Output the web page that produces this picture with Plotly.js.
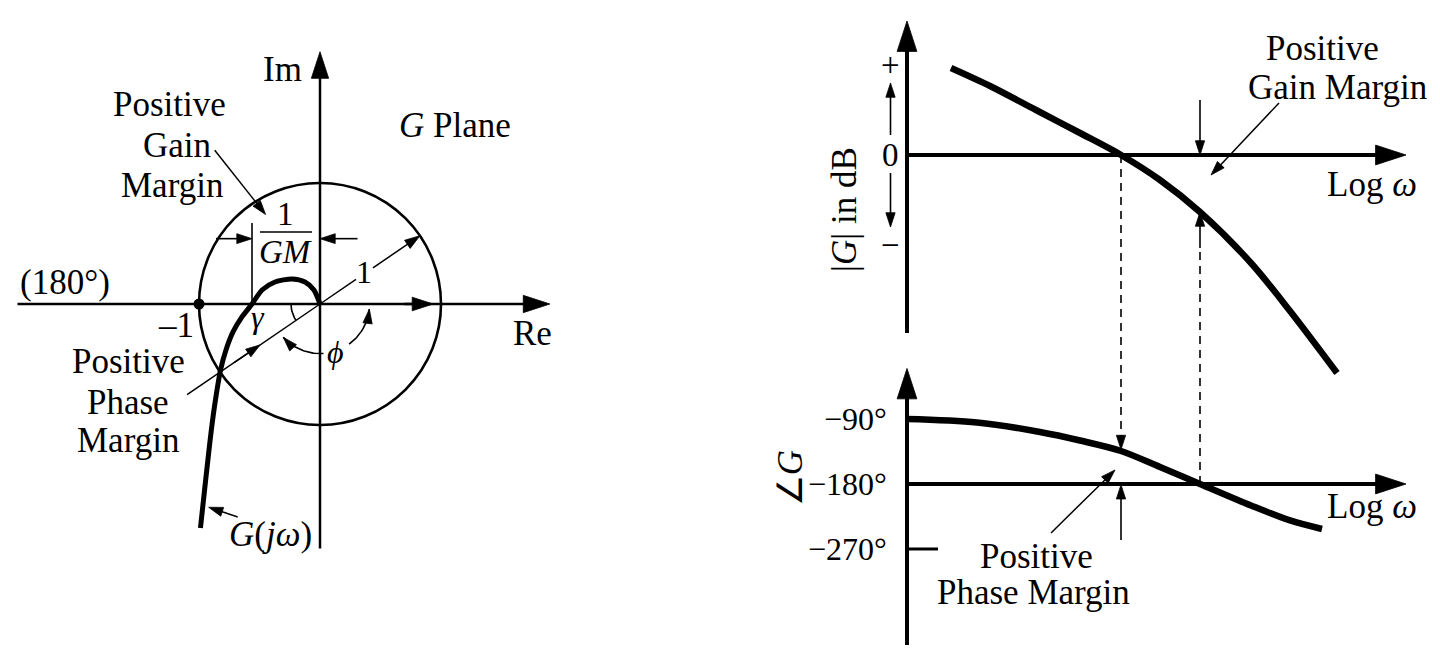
<!DOCTYPE html>
<html><head><meta charset="utf-8">
<script src="https://cdn.plot.ly/plotly-3.0.1.min.js"></script>
<style>html,body{margin:0;padding:0;background:#fff}#chart{width:1440px;height:669px}</style>
</head><body><div id="chart"></div>
<script>
// ---------------- DATA ----------------
// Nyquist locus of G(jω) in the G plane (real / imaginary parts, unit circle radius = 1)
const nyqRe = [-0.988,-0.963,-0.945,-0.922,-0.898,-0.864,-0.822,-0.777,-0.719,-0.645,-0.562,-0.479,-0.372,-0.231,-0.124,-0.050,0];
const nyqIm = [-1.851,-1.620,-1.455,-1.248,-1.041,-0.793,-0.545,-0.380,-0.231,-0.107,0,0.116,0.182,0.207,0.182,0.116,0];
// critical point (−1, 0)
const critRe = [-1];
const critIm = [0];
// Bode magnitude: log ω (schematic units) vs |G| in dB (schematic)
const magLogW = [0.44,0.83,1.29,1.73,2.14,2.53,2.93,3.44,3.83,4.30];
const magDB   = [8.7,6.9,4.5,2.2,0,-2.5,-5.7,-10.8,-15.6,-21.8];
// Bode phase: log ω vs ∠G in degrees
const phLogW = [0,0.70,1.33,1.73,2.14,2.53,2.93,3.44,3.83,4.15];
const phDeg  = [-90,-94.8,-108,-119.8,-134.3,-156.5,-180,-209.8,-230.5,-242.3];
// tick labels
const magTickVals = [9,0,-9];
const magTickText = ['+','0','−'];
const phaseTickVals = [-90,-180,-270];
const phaseTickText = ['−90°','−180°','−270°'];

// ---------------- helpers ----------------
const FONT = '"Liberation Serif", "Times New Roman", serif';
const BLACK = '#000000';
const FS = 35;
function crossAt(xs, ys, target){
  for(let i=0;i<xs.length-1;i++){
    const a=ys[i]-target, b=ys[i+1]-target;
    if(a*b<=0 && ys[i]!==ys[i+1]) return xs[i]+(target-ys[i])*(xs[i+1]-xs[i])/(ys[i+1]-ys[i]);
  }
  return null;
}
function interp(xs, ys, x){
  for(let i=0;i<xs.length-1;i++){
    if((x-xs[i])*(x-xs[i+1])<=0){const t=(x-xs[i])/(xs[i+1]-xs[i]);return ys[i]+t*(ys[i+1]-ys[i]);}
  }
  return null;
}
function line(xs, ys, xa, ya, w, dash, smooth){
  const l={color:BLACK,width:w,dash:dash||'solid'};
  if(smooth){l.shape='spline';l.smoothing=smooth;}
  return {x:xs,y:ys,xaxis:xa,yaxis:ya,mode:'lines',line:l,hoverinfo:'skip',showlegend:false,cliponaxis:false};
}
function arrow(xs, ys, xa, ya, w, size, dash){
  return {x:xs,y:ys,xaxis:xa,yaxis:ya,mode:'lines+markers',opacity:1,
    line:{color:BLACK,width:w,dash:dash||'solid'},
    marker:{symbol:'arrow',angleref:'previous',color:BLACK,opacity:1,line:{color:BLACK,width:0.8},
      size:xs.map((_,i)=>i===xs.length-1?size:0)},
    hoverinfo:'skip',showlegend:false,cliponaxis:false};
}
function arc(r, a0, a1, n){
  const xs=[],ys=[];
  for(let i=0;i<=n;i++){const a=(a0+(a1-a0)*i/n)*Math.PI/180;xs.push(r*Math.cos(a));ys.push(r*Math.sin(a));}
  return [xs,ys];
}
function txt(x,y,xr,yr,text,opt){
  return Object.assign({x:x,y:y,xref:xr,yref:yr,text:text,showarrow:false,
    font:{family:FONT,size:FS,color:BLACK}},opt||{});
}

// ---------------- axes ranges ----------------
const X1=[-320/121, 280/121], Y1=[-365/121, 304/121];
const X2=[-1.40, 5.33], Y2=[-51.4, 15.5], Y3=[-436.2, 490.2];
function deg2db(d){const f=(d-Y3[0])/(Y3[1]-Y3[0]);return Y2[0]+f*(Y2[1]-Y2[0]);}

// ---------------- derived quantities ----------------
const gmRe = crossAt(nyqRe, nyqIm, 0);                 // -1/GM crossing
const nyqR = nyqRe.map((r,i)=>Math.hypot(r,nyqIm[i]));
let pmRe=null, pmIm=null;
for(let i=0;i<nyqR.length-1;i++){
  if((nyqR[i]-1)*(nyqR[i+1]-1)<=0){const t=(1-nyqR[i])/(nyqR[i+1]-nyqR[i]);
    pmRe=nyqRe[i]+t*(nyqRe[i+1]-nyqRe[i]); pmIm=nyqIm[i]+t*(nyqIm[i+1]-nyqIm[i]); break;}
}
const pmAng = Math.atan2(pmIm, pmRe)*180/Math.PI + 360;   // ≈ 213°
const dx = Math.cos(pmAng*Math.PI/180), dy = Math.sin(pmAng*Math.PI/180);

const uGc = crossAt(magLogW, magDB, 0);       // gain crossover
const uPc = crossAt(phLogW, phDeg, -180);     // phase crossover
const phAtGc = interp(phLogW, phDeg, uGc);
const magAtPc = interp(magLogW, magDB, uPc);

const traces = [];
// ===== Nyquist =====
traces.push(arrow([-2.50,1.90],[0,0],'x','y',2.5,28));          // Re axis
traces.push(arrow([0,0],[-2.02,2.085],'x','y',2.5,28));         // Im axis
traces.push(arrow([0.70,0.935],[0,0],'x','y',2.5,22));          // arrow on Re axis inside circle
// 1/GM marker
traces.push(line([gmRe,gmRe],[0,0.67],'x','y',1.6));
traces.push(arrow([-0.86,gmRe],[0.54,0.54],'x','y',1.6,16));
traces.push(arrow([0.31,0],[0.54,0.54],'x','y',1.6,16));
// phase margin line
traces.push(line([1.33*dx,0],[1.33*dy,0],'x','y',1.5));
traces.push(line([0,-0.36*dx],[0,-0.36*dy],'x','y',1.5));
traces.push(arrow([-0.53*dx,-1.0*dx],[-0.53*dy,-1.0*dy],'x','y',1.5,16));
traces.push(arrow([0.86*dx,0.6*dx],[0.86*dy,0.6*dy],'x','y',1.5,15));
// gamma arc
{const a=arc(0.24,180,pmAng,20);traces.push(line(a[0],a[1],'x','y',1.6));}
// phi arcs
{const a=arc(0.41,274,pmAng+8,30);traces.push(arrow(a[0],a[1],'x','y',1.6,15));}
{const a=arc(0.41,306,354,30);traces.push(arrow(a[0],a[1],'x','y',1.6,15));}
// leaders
traces.push(arrow([-0.87,-0.45],[1.27,0.74],'x','y',1.5,15));
traces.push(arrow([-0.68,-0.92],[-1.76,-1.68],'x','y',1.5,15));
// locus
traces.push(line(nyqRe,nyqIm,'x','y',5,null,0.7));
traces.push({x:critRe,y:critIm,xaxis:'x',yaxis:'y',mode:'markers',marker:{color:BLACK,size:11},hoverinfo:'skip',showlegend:false,cliponaxis:false});

// ===== Bode magnitude =====
traces.push(arrow([0,0],[-17.8,13.4],'x2','y2',4,32));
traces.push(arrow([0,4.99],[0,0],'x2','y2',4,32));
traces.push(arrow([-0.165,-0.165],[2.0,7.2],'x2','y2',1.6,15));
traces.push(arrow([-0.165,-0.165],[-1.8,-7.2],'x2','y2',1.6,15));
traces.push(arrow([uPc,uPc],[5.5,0],'x2','y2',1.6,15));
traces.push(line([uPc,uPc],[deg2db(-180),magAtPc-3.5],'x2','y2',1.6,'8px,6px'));
traces.push(arrow([uPc,uPc],[magAtPc-3.6,magAtPc],'x2','y2',1.6,15));
traces.push(line([uGc,uGc],[0,deg2db(phAtGc+20)],'x2','y2',1.6,'8px,6px'));
traces.push(arrow([uGc,uGc],[deg2db(phAtGc+21),deg2db(phAtGc+2)],'x2','y2',1.6,15));
traces.push(arrow([3.72,3.04],[5.2,-2.0],'x2','y2',1.5,15));
traces.push(line(magLogW,magDB,'x2','y2',6.5,null,0.9));

// ===== Bode phase =====
traces.push(arrow([0,0],[-403,-20],'x2','y3',4,32));
traces.push(arrow([0,4.99],[-180,-180],'x2','y3',4,32));
traces.push(line([0,0.31],[-270,-270],'x2','y3',3));
traces.push(arrow([uGc,uGc],[-257.5,-181],'x2','y3',1.6,15));
traces.push(arrow([1.44,2.08],[-247.8,-160.6],'x2','y3',1.5,15));
traces.push(line(phLogW,phDeg,'x2','y3',6.5,null,0.9));

// ---------------- annotations ----------------
const ann = [];
ann.push(txt(-0.314,1.934,'x','y','Im'));
ann.push(txt(1.76,-0.24,'x','y','Re'));
ann.push(txt(-2.107,0.174,'x','y','(180°)'));
ann.push(txt(-1.19,-0.174,'x','y','–1'));
ann.push(txt(1.116,1.479,'x','y','<i>G</i> Plane'));
ann.push(txt(-1.24,1.645,'x','y','Positive'));
ann.push(txt(-1.18,1.314,'x','y','Gain'));
ann.push(txt(-1.223,0.983,'x','y','Margin'));
ann.push(txt(-1.58,-0.479,'x','y','Positive'));
ann.push(txt(-1.59,-0.81,'x','y','Phase'));
ann.push(txt(-1.59,-1.124,'x','y','Margin'));
ann.push(txt(-0.413,-1.909,'x','y','<i>G</i>(<i>jω</i>)'));
ann.push(txt(-0.285,0.745,'x','y','1',{font:{family:FONT,size:33,color:BLACK}}));
ann.push(txt(-0.285,0.43,'x','y','<i>GM</i>',{font:{family:FONT,size:33,color:BLACK}}));
ann.push(txt(-0.51,-0.11,'x','y','<i>γ</i>',{font:{family:FONT,size:32,color:BLACK}}));
ann.push(txt(0.13,-0.40,'x','y','<i>ϕ</i>',{font:{family:FONT,size:32,color:BLACK}}));
ann.push(txt(-0.44*dx,-0.44*dy+0.02,'x','y','1',{font:{family:FONT,size:32,color:BLACK}}));

magTickVals.forEach((v,i)=>ann.push(txt(-0.165,v,'x2','y2',magTickText[i],{font:{family:FONT,size:33,color:BLACK}})));
ann.push(txt(-0.63,-5.5,'x2','y2','|<i>G</i>| in dB',{textangle:-90}));
ann.push(txt(4.65,-2.9,'x2','y2','Log <i>ω</i>'));
ann.push(txt(4.15,10.7,'x2','y2','Positive'));
ann.push(txt(4.30,6.8,'x2','y2','Gain Margin'));

phaseTickVals.forEach((v,i)=>ann.push(txt(-0.185,v,'x2','y3',phaseTickText[i],{xanchor:'right',font:{family:FONT,size:32,color:BLACK}})));
ann.push(txt(-1.17,-172,'x2','y3','∠<i>G</i>',{textangle:-90}));
ann.push(txt(4.65,-211.8,'x2','y3','Log <i>ω</i>'));
ann.push(txt(1.29,-280,'x2','y3','Positive'));
ann.push(txt(1.26,-330.5,'x2','y3','Phase Margin'));

const shapes = [
  {type:'circle',xref:'x',yref:'y',x0:-1,x1:1,y0:-1,y1:1,line:{color:BLACK,width:2.6}},
  {type:'line',xref:'x',yref:'y',x0:-0.496,x1:-0.066,y0:0.595,y1:0.595,line:{color:BLACK,width:1.6}}
];

const ax = {visible:false,showgrid:false,zeroline:false,fixedrange:true};
const x2start = (907 - 140)/1440;   // left edge of the Bode panel
const layout = {
  width:1440,height:669,margin:{l:0,r:0,t:0,b:0},
  paper_bgcolor:'#fff',plot_bgcolor:'rgba(0,0,0,0)',showlegend:false,
  xaxis:Object.assign({domain:[0,600/1440],range:X1,anchor:'y'},ax),
  yaxis:Object.assign({domain:[0,1],range:Y1,anchor:'x'},ax),
  xaxis2:Object.assign({domain:[x2start,1],range:X2,anchor:'y2'},ax),
  yaxis2:Object.assign({domain:[0,1],range:Y2,anchor:'x2'},ax),
  yaxis3:Object.assign({domain:[0,1],range:Y3,anchor:'x2'},ax),
  shapes:shapes,annotations:ann
};
Plotly.newPlot('chart',traces,layout,{staticPlot:true,displayModeBar:false});
</script></body></html>
